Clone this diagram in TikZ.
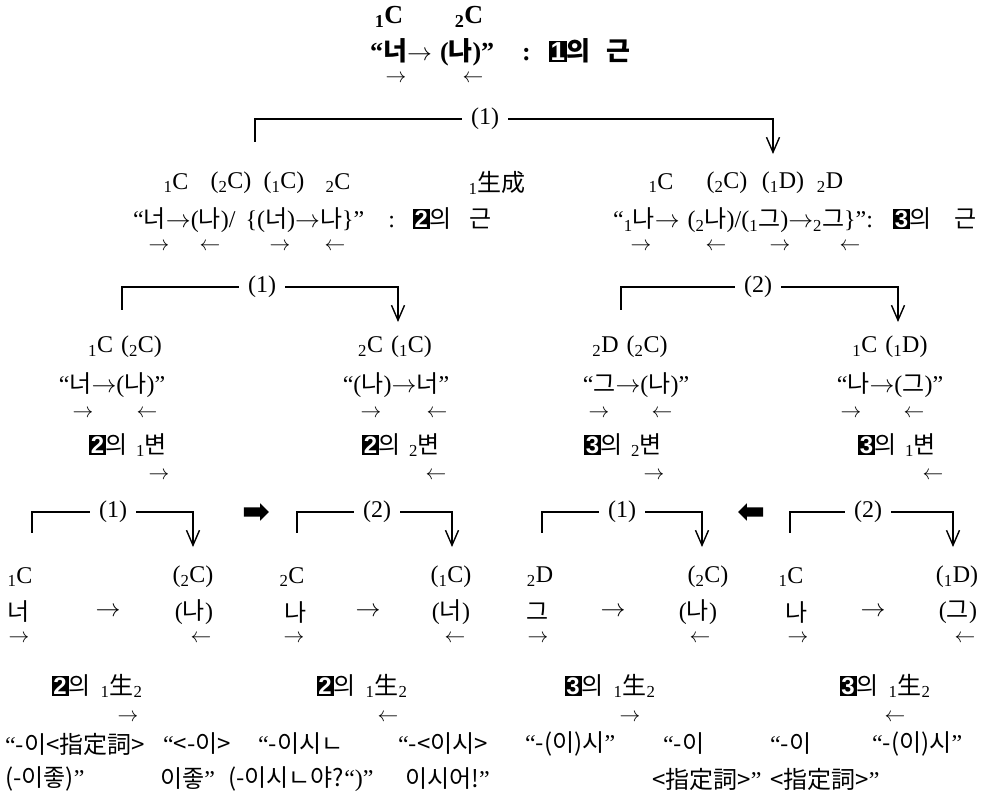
\documentclass[tikz,border=0pt]{standalone}
\usepackage{fontspec}
\setmainfont{Liberation Serif}
\setsansfont{Liberation Sans}
\newfontfamily\kr{Noto Sans CJK KR}
\usetikzlibrary{positioning,arrows.meta,shapes.arrows}

\newcommand\ko[1]{{\kr #1}}
\newcommand\sn[1]{\textsubscript{#1}}
\newcommand\bnum[1]{{\setlength\fboxsep{1.8pt}\colorbox{black}{\textcolor{white}{\sffamily\bfseries #1}}}}
\newcommand\toR{$\rightarrow$}
\newcommand\toL{$\leftarrow$}

\begin{document}
\begin{tikzpicture}[x=1pt, y=-1pt,
    txt/.style={inner sep=0pt, font=\fontsize{24}{28}\selectfont},
    big/.style={inner sep=0pt, font=\fontsize{26}{30}\selectfont\bfseries},
    sml/.style={inner sep=0pt, font=\fontsize{20}{24}\selectfont},
    lab/.style={txt, inner sep=9pt},
    brk/.style={line width=1.4pt},
    arr/.style={brk, -{Straight Barb[length=15pt,width=13pt,line width=1.4pt]}},
    fat/.style={single arrow, fill=black, inner xsep=2pt, inner ysep=4.5pt, minimum height=25pt,
        single arrow head extend=4pt, single arrow head indent=0pt}]

    \useasboundingbox (0,0) rectangle (1007,798);

    % root
    \node[big] (c1) at (389,17) {\sn{1}C};
    \node[big] (c2) at (469,17) {\sn{2}C};
    \node[big, anchor=west] (root) at (370,52) {“\ko{너}\toR\hspace{8pt}(\ko{나})”\hspace{28pt}:\hspace{18pt}\bnum{1}\ko{의}\hspace{16pt}\ko{근}};
    \node[sml] (rr) at (396,79) {\toR};
    \node[sml] (rl) at (473,79) {\toL};

    \node[lab] (s1) at (485,119) {(1)};
    \coordinate (s1a) at (255,142);
    \coordinate (s1b) at (773,154);
    \draw[brk] (s1.west) -| (s1a);
    \draw[arr] (s1.east) -| (s1b);

    % second level, left
    \node[txt] (a1) at (176,183) {\sn{1}C};
    \node[txt] (a2) at (231,183) {(\sn{2}C)};
    \node[txt] (a3) at (284,183) {(\sn{1}C)};
    \node[txt] (a4) at (338,183) {\sn{2}C};
    \node[txt] (a5) at (497,183) {\sn{1}\ko{生成}};
    \node[txt, anchor=west] (two) at (133,220) {“\ko{너}\toR(\ko{나})/\hspace{10pt}\{(\ko{너})\toR\ko{나}\}”\hspace{24pt}:\hspace{18pt}\bnum{2}\ko{의}\hspace{18pt}\ko{근}};
    \node[sml] (ta) at (159,247) {\toR};
    \node[sml] (tb) at (210,247) {\toL};
    \node[sml] (tc) at (280,247) {\toR};
    \node[sml] (td) at (335,247) {\toL};

    % second level, right
    \node[txt] (b1) at (661,183) {\sn{1}C};
    \node[txt] (b2) at (727,183) {(\sn{2}C)};
    \node[txt] (b3) at (783,183) {(\sn{1}D)};
    \node[txt] (b4) at (830,183) {\sn{2}D};
    \node[txt, anchor=west] (three) at (613,220) {“\sn{1}\ko{나}\toR\hspace{8pt}(\sn{2}\ko{나})/(\sn{1}\ko{그})\toR\sn{2}\ko{그}\}”:\hspace{20pt}\bnum{3}\ko{의}\hspace{22pt}\ko{근}};
    \node[sml] (ua) at (641,247) {\toR};
    \node[sml] (ub) at (716,247) {\toL};
    \node[sml] (uc) at (780,247) {\toR};
    \node[sml] (ud) at (850,247) {\toL};

    \node[lab] (s2) at (262,287) {(1)};
    \coordinate (s2a) at (122,310);
    \coordinate (s2b) at (398,322);
    \draw[brk] (s2.west) -| (s2a);
    \draw[arr] (s2.east) -| (s2b);

    \node[lab] (s3) at (758,287) {(2)};
    \coordinate (s3a) at (621,310);
    \coordinate (s3b) at (898,322);
    \draw[brk] (s3.west) -| (s3a);
    \draw[arr] (s3.east) -| (s3b);

    % third level
    \node[txt] (p1) at (125,347) {\sn{1}C\hspace{8pt}(\sn{2}C)};
    \node[txt] (p2) at (112,385) {“\ko{너}\toR(\ko{나})”};
    \node[sml] (pa) at (83,414) {\toR};
    \node[sml] (pb) at (147,414) {\toL};
    \node[txt] (p3) at (128,445) {\bnum{2}\ko{의}\hspace{8pt}\sn{1}\ko{변}};
    \node[sml] (pc) at (159,476) {\toR};

    \node[txt] (q1) at (395,347) {\sn{2}C\hspace{8pt}(\sn{1}C)};
    \node[txt] (q2) at (396,385) {“(\ko{나})\toR\ko{너}”};
    \node[sml] (qa) at (371,414) {\toR};
    \node[sml] (qb) at (437,414) {\toL};
    \node[txt] (q3) at (401,445) {\bnum{2}\ko{의}\hspace{8pt}\sn{2}\ko{변}};
    \node[sml] (qc) at (436,476) {\toL};

    \node[txt] (m1) at (630,347) {\sn{2}D\hspace{8pt}(\sn{2}C)};
    \node[txt] (m2) at (636,385) {“\ko{그}\toR(\ko{나})”};
    \node[sml] (ma) at (599,414) {\toR};
    \node[sml] (mb) at (662,414) {\toL};
    \node[txt] (m3) at (623,445) {\bnum{3}\ko{의}\hspace{8pt}\sn{2}\ko{변}};
    \node[sml] (mc) at (654,476) {\toR};

    \node[txt] (n1) at (890,347) {\sn{1}C\hspace{8pt}(\sn{1}D)};
    \node[txt] (n2) at (890,385) {“\ko{나}\toR(\ko{그})”};
    \node[sml] (na) at (851,414) {\toR};
    \node[sml] (nb) at (914,414) {\toL};
    \node[txt] (n3) at (897,445) {\bnum{3}\ko{의}\hspace{8pt}\sn{1}\ko{변}};
    \node[sml] (nc) at (933,476) {\toL};

    % fourth level brackets
    \node[lab] (k1) at (113,512) {(1)};
    \coordinate (k1a) at (32,533);
    \coordinate (k1b) at (193,547);
    \draw[brk] (k1.west) -| (k1a);
    \draw[arr] (k1.east) -| (k1b);

    \node[fat] (f1) at (254,512) {};

    \node[lab] (k2) at (377,512) {(2)};
    \coordinate (k2a) at (297,533);
    \coordinate (k2b) at (452,547);
    \draw[brk] (k2.west) -| (k2a);
    \draw[arr] (k2.east) -| (k2b);

    \node[lab] (k3) at (622,512) {(1)};
    \coordinate (k3a) at (542,533);
    \coordinate (k3b) at (702,547);
    \draw[brk] (k3.west) -| (k3a);
    \draw[arr] (k3.east) -| (k3b);

    \node[fat, shape border rotate=180] (f2) at (753,512) {};

    \node[lab] (k4) at (868,512) {(2)};
    \coordinate (k4a) at (790,533);
    \coordinate (k4b) at (953,547);
    \draw[brk] (k4.west) -| (k4a);
    \draw[arr] (k4.east) -| (k4b);

    % fourth level rows
    \node[txt] (w1) at (20,577) {\sn{1}C};
    \node[txt] (w2) at (193,577) {(\sn{2}C)};
    \node[txt] (w3) at (292,577) {\sn{2}C};
    \node[txt] (w4) at (451,577) {(\sn{1}C)};
    \node[txt] (w5) at (540,577) {\sn{2}D};
    \node[txt] (w6) at (708,577) {(\sn{2}C)};
    \node[txt] (w7) at (791,577) {\sn{1}C};
    \node[txt] (w8) at (957,577) {(\sn{1}D)};

    \node[txt] (h1) at (19,612) {\ko{너}};
    \node[txt] (h2) at (108,612) {\toR};
    \node[txt] (h3) at (194,612) {(\ko{나})};
    \node[txt] (h4) at (296,612) {\ko{나}};
    \node[txt] (h5) at (368,612) {\toR};
    \node[txt] (h6) at (451,612) {(\ko{너})};
    \node[txt] (h7) at (538,612) {\ko{그}};
    \node[txt] (h8) at (613,612) {\toR};
    \node[txt] (h9) at (698,612) {(\ko{나})};
    \node[txt] (h10) at (797,612) {\ko{나}};
    \node[txt] (h11) at (873,612) {\toR};
    \node[txt] (h12) at (958,612) {(\ko{그})};

    \node[sml] (v1) at (19,639) {\toR};
    \node[sml] (v2) at (201,639) {\toL};
    \node[sml] (v3) at (294,639) {\toR};
    \node[sml] (v4) at (455,639) {\toL};
    \node[sml] (v5) at (538,639) {\toR};
    \node[sml] (v6) at (700,639) {\toL};
    \node[sml] (v7) at (798,639) {\toR};
    \node[sml] (v8) at (965,639) {\toL};

    % fifth level
    \node[txt] (g1) at (97,686) {\bnum{2}\ko{의}\hspace{10pt}\sn{1}\ko{生}\sn{2}};
    \node[txt] (g2) at (362,686) {\bnum{2}\ko{의}\hspace{10pt}\sn{1}\ko{生}\sn{2}};
    \node[txt] (g3) at (610,686) {\bnum{3}\ko{의}\hspace{10pt}\sn{1}\ko{生}\sn{2}};
    \node[txt] (g4) at (885,686) {\bnum{3}\ko{의}\hspace{10pt}\sn{1}\ko{生}\sn{2}};
    \node[sml] (ga) at (128,718) {\toR};
    \node[sml] (gb) at (388,718) {\toL};
    \node[sml] (gc) at (630,718) {\toR};
    \node[sml] (gd) at (895,718) {\toL};

    % examples
    \node[txt, anchor=west] (e1) at (5,744) {“\ko{-이<指定詞>}};
    \node[txt, anchor=west] (e2) at (163,744) {“\ko{<-이>}};
    \node[txt, anchor=west] (e3) at (258,744) {“\ko{-이시ㄴ}};
    \node[txt, anchor=west] (e4) at (398,744) {“\ko{-<이시>}};
    \node[txt, anchor=west] (e5) at (525,744) {“\ko{-(이)시}”};
    \node[txt, anchor=west] (e6) at (663,744) {“\ko{-이}};
    \node[txt, anchor=west] (e7) at (770,744) {“\ko{-이}};
    \node[txt, anchor=west] (e8) at (872,744) {“\ko{-(이)시}”};
    \node[txt, anchor=west] (x1) at (5,779) {\ko{(-이좋)}”};
    \node[txt, anchor=west] (x2) at (160,779) {\ko{이좋}”};
    \node[txt, anchor=west] (x3) at (228,779) {\ko{(-이시ㄴ야?}“)”};
    \node[txt, anchor=west] (x4) at (405,779) {\ko{이시어!}”};
    \node[txt, anchor=west] (x5) at (652,779) {\ko{<指定詞>}”};
    \node[txt, anchor=west] (x6) at (770,779) {\ko{<指定詞>}”};

\end{tikzpicture}
\end{document}
